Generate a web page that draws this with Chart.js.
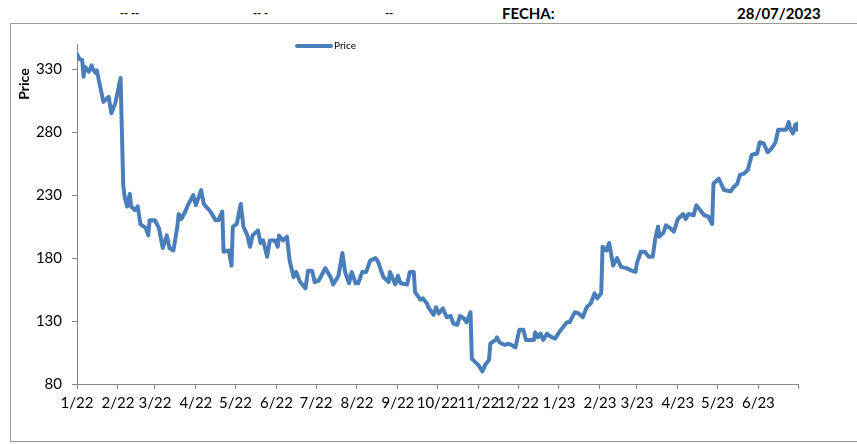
<!DOCTYPE html>
<html>
<head>
<meta charset="utf-8">
<script src="https://cdn.jsdelivr.net/npm/chart.js@4.4.0/dist/chart.umd.min.js"></script>
<style>
  html, body { margin: 0; padding: 0; background: #fff; }
  body { width: 857px; height: 444px; position: relative; overflow: hidden; font-family: Lato, "Open Sans", sans-serif; }
  .box { position: absolute; left: 10px; top: 23px; width: 900px; height: 417px; border: 1px solid #9a9a9a; }
  .hdr { position: absolute; top: 4px; font-weight: bold; color: #000; white-space: nowrap; }
  #wrap { position: absolute; left: 0; top: 0; width: 857px; height: 444px; }
</style>
</head>
<body>
<div class="box"></div>
<div class="hdr" style="left:120px; font-size:11px; top:6px;">-- --</div>
<div class="hdr" style="left:253px; font-size:11px; top:6px;">-- -</div>
<div class="hdr" style="left:385px; font-size:11px; top:6px;">--</div>
<div class="hdr" style="left:502px; font-size:15px;">FECHA:</div>
<div class="hdr" style="left:737px; font-size:15px;">28/07/2023</div>
<div id="wrap"><canvas id="chart" width="857" height="444"></canvas></div>
<script>
// days counted from 1 Jan 2022
const days = [
  0, 2, 4, 5, 6, 9, 11, 12, 14, 15, 17, 20, 22, 24, 26, 29, 33, 35, 36, 38,
  40, 41, 44, 46, 48, 52, 54, 55, 59, 62, 65, 68, 70, 73, 76, 77, 79, 82, 84, 88,
  90, 94, 96, 101, 105, 107, 110, 111, 115, 117, 118, 121, 124, 126, 129, 131, 133, 137, 139, 141,
  144, 146, 150, 152, 153, 156, 159, 161, 164, 166, 169, 173, 175, 178, 180, 183, 188, 192, 194, 198,
  201, 203, 206, 208, 211, 213, 216, 219, 222, 226, 228, 232, 236, 237, 241, 243, 245, 250, 252, 255,
  256, 260, 262, 265, 266, 270, 272, 274, 277, 280, 283, 285, 288, 290, 293, 295, 298, 299, 301, 304,
  307, 309, 312, 313, 317, 318, 320, 324, 327, 329, 332, 335, 338, 340, 343, 346, 347, 349, 351, 353,
  356, 358, 362, 365, 368, 371, 373, 377, 380, 383, 386, 389, 392, 394, 397, 398, 401, 403, 406, 409,
  412, 416, 420, 423, 424, 427, 430, 433, 436, 438, 440, 441, 444, 446, 449, 452, 455, 459, 461, 463,
  467, 469, 472, 475, 478, 481, 482, 486, 490, 495, 497, 500, 502, 505, 508, 511, 515, 517, 520, 523,
  526, 529, 531, 534, 537, 539, 540, 542, 544, 545, 546
];
const prices = [
  342, 338, 337, 324, 332, 328, 333, 330, 327, 329, 319, 304, 306, 308, 295, 303, 323, 238, 229, 221,
  231, 221, 218, 221, 207, 204, 198, 210, 210, 204, 188, 198, 188, 186, 205, 215, 211, 217, 222, 230,
  222, 234, 223, 217, 210, 210, 217, 185, 186, 174, 205, 207, 223, 205, 198, 189, 198, 202, 192, 194,
  181, 194, 194, 189, 198, 194, 197, 178, 165, 169, 161, 156, 170, 170, 161, 162, 172, 165, 159, 166,
  184, 169, 160, 169, 160, 160, 169, 169, 178, 180, 177, 165, 161, 169, 159, 166, 160, 159, 169, 169,
  153, 147, 148, 144, 141, 135, 141, 136, 140, 133, 134, 128, 127, 134, 132, 129, 137, 100, 98, 95,
  90, 95, 99, 112, 115, 117, 113, 111, 112, 111, 109, 123, 123, 115, 115, 115, 121, 117, 120, 115,
  120, 118, 116, 121, 125, 129, 129, 137, 136, 133, 141, 144, 152, 148, 152, 189, 186, 192, 174, 180,
  173, 172, 170, 169, 176, 185, 185, 181, 181, 196, 205, 197, 200, 206, 204, 201, 211, 215, 211, 215,
  214, 222, 218, 214, 213, 207, 239, 243, 234, 233, 236, 239, 246, 247, 250, 262, 263, 272, 271, 264,
  267, 272, 282, 282, 282, 288, 283, 279, 286, 282, 287
];
const monthStarts = [0, 31, 59, 90, 120, 151, 181, 212, 243, 273, 304, 334, 365, 396, 424, 455, 485, 516, 546];
const monthLabels = ["1/22", "2/22", "3/22", "4/22", "5/22", "6/22", "7/22", "8/22", "9/22", "10/22",
  "11/22", "12/22", "1/23", "2/23", "3/23", "4/23", "5/23", "6/23", ""];
const yTicks = [80, 130, 180, 230, 280, 330];

const lineColor = "#4a7ebb";
const axisColor = "#868686";

// y axis title and legend sit where Excel put them, so they are drawn by hand
const extras = {
  id: "extras",
  afterDraw(chart) {
    const ctx = chart.ctx;
    ctx.save();
    ctx.fillStyle = "#000";
    ctx.font = "bold 14px Lato";
    ctx.translate(24, 84);
    ctx.rotate(-Math.PI / 2);
    ctx.textAlign = "center";
    ctx.textBaseline = "middle";
    ctx.fillText("Price", 0, 0);
    ctx.restore();

    ctx.save();
    ctx.strokeStyle = lineColor;
    ctx.lineWidth = 4;
    ctx.lineCap = "round";
    ctx.beginPath();
    ctx.moveTo(297, 46);
    ctx.lineTo(331, 46);
    ctx.stroke();
    ctx.fillStyle = "#000";
    ctx.font = "10px Lato";
    ctx.textBaseline = "middle";
    ctx.fillText(chart.data.datasets[0].label, 334, 46);
    ctx.restore();
  }
};

new Chart(document.getElementById("chart"), {
  type: "line",
  data: {
    datasets: [{
      label: "Price",
      data: days.map((d, i) => ({ x: d, y: prices[i] })),
      borderColor: lineColor,
      borderWidth: 4,
      borderJoinStyle: "round",
      borderCapStyle: "round",
      pointRadius: 0,
      tension: 0,
      fill: false
    }]
  },
  options: {
    responsive: false,
    animation: false,
    devicePixelRatio: 1,
    layout: { padding: { top: 44, right: 59, left: 0, bottom: 0 } },
    plugins: {
      legend: { display: false },
      tooltip: { enabled: false }
    },
    scales: {
      x: {
        type: "linear",
        min: 0,
        max: 546,
        afterBuildTicks: (scale) => { scale.ticks = monthStarts.map(v => ({ value: v })); },
        afterFit: (scale) => { scale.height = 60; },
        ticks: {
          autoSkip: false,
          maxRotation: 0,
          color: "#000",
          padding: 5,
          font: { family: "Lato", size: 15 },
          callback: (v) => monthLabels[monthStarts.indexOf(v)]
        },
        grid: { drawOnChartArea: false, drawTicks: true, tickLength: 5, color: axisColor },
        border: { color: axisColor }
      },
      y: {
        min: 80,
        max: 350,
        afterBuildTicks: (scale) => { scale.ticks = yTicks.map(v => ({ value: v })); },
        afterFit: (scale) => { scale.width = 77; },
        ticks: {
          color: "#000",
          padding: 10,
          font: { family: "Lato", size: 15 }
        },
        grid: { drawOnChartArea: false, drawTicks: true, tickLength: 5, color: axisColor },
        border: { color: axisColor }
      }
    }
  },
  plugins: [extras]
});
</script>
</body>
</html>
